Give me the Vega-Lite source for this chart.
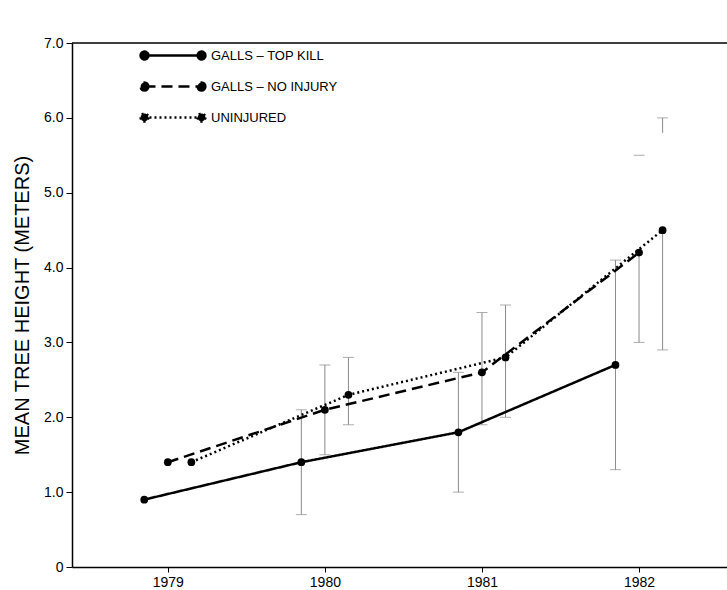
{
  "$schema": "https://vega.github.io/schema/vega-lite/v6.json",
  "width": 655,
  "height": 524,
  "autosize": {"type": "none"},
  "padding": {"left": 72, "top": 43, "right": 0, "bottom": 23},
  "background": "white",
  "config": {
    "view": {"stroke": null},
    "font": "Liberation Sans",
    "axis": {
      "domainColor": "black",
      "domainWidth": 1.5,
      "tickColor": "black",
      "tickWidth": 1,
      "labelColor": "black",
      "titleColor": "black",
      "grid": false,
      "labelFontSize": 14,
      "labelFont": "Liberation Sans",
      "titleFont": "Liberation Sans"
    }
  },
  "datasets": {
    "means": [
      {"series": "GALLS – TOP KILL", "year": 1978.85, "height": 0.9},
      {"series": "GALLS – TOP KILL", "year": 1979.85, "height": 1.4},
      {"series": "GALLS – TOP KILL", "year": 1980.85, "height": 1.8},
      {"series": "GALLS – TOP KILL", "year": 1981.85, "height": 2.7},
      {"series": "GALLS – NO INJURY", "year": 1979.0, "height": 1.4},
      {"series": "GALLS – NO INJURY", "year": 1980.0, "height": 2.1},
      {"series": "GALLS – NO INJURY", "year": 1981.0, "height": 2.6},
      {"series": "GALLS – NO INJURY", "year": 1982.0, "height": 4.2},
      {"series": "UNINJURED", "year": 1979.15, "height": 1.4},
      {"series": "UNINJURED", "year": 1980.15, "height": 2.3},
      {"series": "UNINJURED", "year": 1981.15, "height": 2.8},
      {"series": "UNINJURED", "year": 1982.15, "height": 4.5}
    ],
    "bars": [
      {"series": "GALLS – TOP KILL", "year": 1979.85, "lo": 0.7, "hi": 2.1},
      {"series": "GALLS – NO INJURY", "year": 1980.0, "lo": 1.5, "hi": 2.7},
      {"series": "UNINJURED", "year": 1980.15, "lo": 1.9, "hi": 2.8},
      {"series": "GALLS – TOP KILL", "year": 1980.85, "lo": 1.0, "hi": 2.6},
      {"series": "GALLS – NO INJURY", "year": 1981.0, "lo": 1.9, "hi": 3.4},
      {"series": "UNINJURED", "year": 1981.15, "lo": 2.0, "hi": 3.5},
      {"series": "GALLS – TOP KILL", "year": 1981.85, "lo": 1.3, "hi": 4.1},
      {"series": "GALLS – NO INJURY", "year": 1982.0, "lo": 3.0, "hi": 4.2},
      {"series": "UNINJURED", "year": 1982.15, "lo": 2.9, "hi": 4.5},
      {"series": "UNINJURED", "year": 1982.15, "lo": 5.8, "hi": 6.0}
    ],
    "caps": [
      {"year": 1979.85, "v": 0.7}, {"year": 1979.85, "v": 2.1},
      {"year": 1980.0, "v": 1.5}, {"year": 1980.0, "v": 2.7},
      {"year": 1980.15, "v": 1.9}, {"year": 1980.15, "v": 2.8},
      {"year": 1980.85, "v": 1.0}, {"year": 1980.85, "v": 2.6},
      {"year": 1981.0, "v": 1.9}, {"year": 1981.0, "v": 3.4},
      {"year": 1981.15, "v": 2.0}, {"year": 1981.15, "v": 3.5},
      {"year": 1981.85, "v": 1.3}, {"year": 1981.85, "v": 4.1},
      {"year": 1982.0, "v": 3.0}, {"year": 1982.0, "v": 5.5},
      {"year": 1982.15, "v": 2.9}, {"year": 1982.15, "v": 6.0}
    ]
  },
  "layer": [
    {
      "data": {"name": "bars"},
      "mark": {"type": "rule", "stroke": "#8a8a8a", "strokeWidth": 1},
      "encoding": {
        "x": {
          "field": "year", "type": "quantitative",
          "scale": {"domain": [1978.39, 1982.56], "nice": false, "zero": false},
          "axis": {"values": [1979, 1980, 1981, 1982], "format": "d", "title": null, "tickSize": 5, "labelPadding": 3}
        },
        "y": {
          "field": "lo", "type": "quantitative",
          "scale": {"domain": [0, 7], "nice": false},
          "axis": {
            "values": [0, 0.5, 1, 1.5, 2, 2.5, 3, 3.5, 4, 4.5, 5, 5.5, 6, 6.5, 7],
            "labelExpr": "datum.value % 1 != 0 ? '' : (datum.value == 0 ? '0' : format(datum.value, '.1f'))",
            "tickSize": {"condition": {"test": "datum.value % 1 != 0", "value": 3}, "value": 6},
            "labelPadding": 3,
            "title": "MEAN TREE HEIGHT (METERS)",
            "titleFontSize": 20,
            "titleFontWeight": "normal",
            "titlePadding": 11
          }
        },
        "y2": {"field": "hi"}
      }
    },
    {
      "data": {"name": "caps"},
      "mark": {"type": "tick", "orient": "horizontal", "size": 11, "thickness": 1, "color": "#8a8a8a"},
      "encoding": {
        "x": {"field": "year", "type": "quantitative"},
        "y": {"field": "v", "type": "quantitative"}
      }
    },
    {
      "data": {"name": "means"},
      "mark": {"type": "line", "color": "black", "strokeWidth": 2.5},
      "encoding": {
        "x": {"field": "year", "type": "quantitative"},
        "y": {"field": "height", "type": "quantitative"},
        "strokeDash": {
          "field": "series", "type": "nominal",
          "scale": {
            "domain": ["GALLS – TOP KILL", "GALLS – NO INJURY", "UNINJURED"],
            "range": [[1, 0], [11, 6], [2, 3]]
          },
          "legend": {
            "orient": "none",
            "legendX": 67,
            "legendY": -2,
            "title": null,
            "padding": 0,
            "symbolType": "M-0.88,0L0.88,0M-0.76,0A0.12,0.12,0,1,1,-1,0A0.12,0.12,0,1,1,-0.76,0ZM1,0A0.12,0.12,0,1,1,0.76,0A0.12,0.12,0,1,1,1,0Z",
            "symbolSize": 4199,
            "symbolStrokeWidth": 2.5,
            "symbolStrokeColor": "black",
            "symbolFillColor": "black",
            "clipHeight": 29,
            "rowPadding": 2,
            "labelFontSize": 13,
            "labelOffset": 4,
            "labelColor": "black",
            "labelLimit": 300,
            "encode": {"symbols": {"update": {"fill": {"value": "black"}, "stroke": {"value": "black"}}}}
          }
        }
      }
    },
    {
      "data": {"name": "means"},
      "mark": {"type": "circle", "color": "black", "size": 60, "opacity": 1},
      "encoding": {
        "x": {"field": "year", "type": "quantitative"},
        "y": {"field": "height", "type": "quantitative"},
        "detail": {"field": "series"}
      }
    },
    {
      "data": {"values": [{}]},
      "mark": {"type": "rule", "color": "black", "strokeWidth": 1.5},
      "encoding": {"y": {"datum": 7}}
    }
  ]
}
